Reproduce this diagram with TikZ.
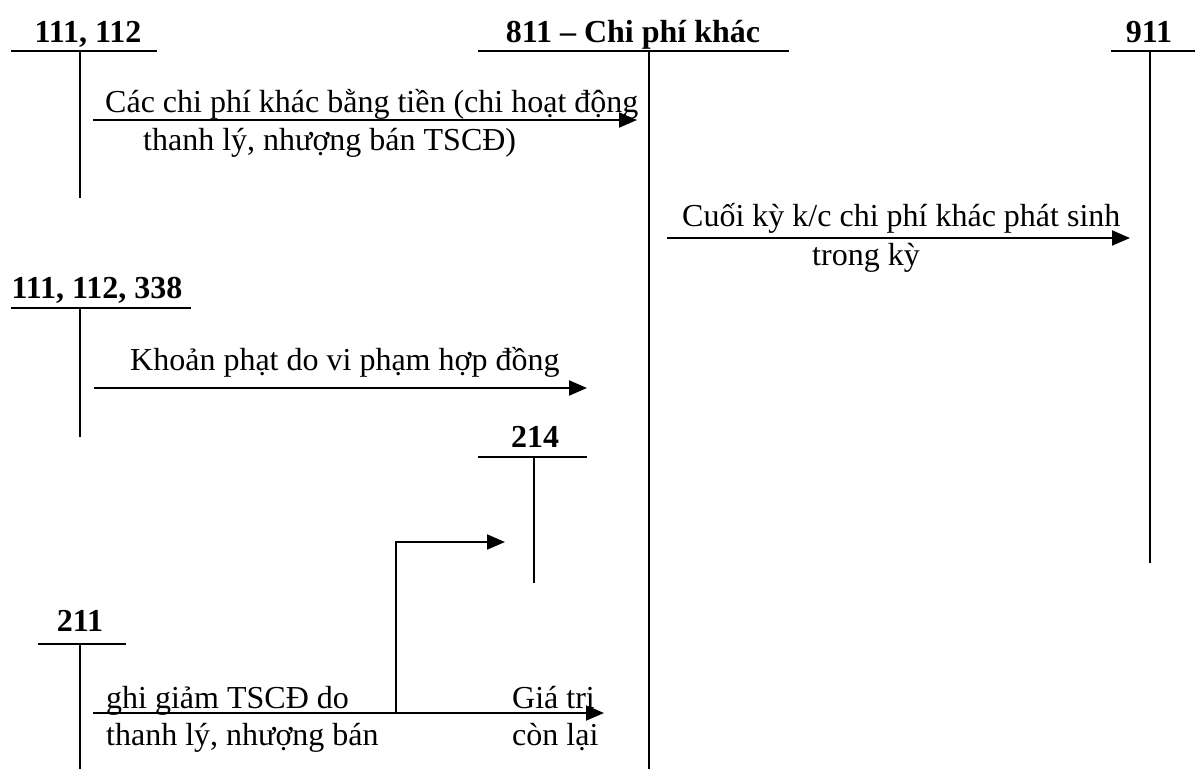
\documentclass[tikz,border=0pt]{standalone}
\usepackage{fontspec}
\setmainfont{Liberation Serif}
\usetikzlibrary{arrows.meta}
\begin{document}
\begin{tikzpicture}[x=1pt,y=-1pt,
  acct/.style={font=\fontsize{32}{38}\selectfont\bfseries, anchor=base, inner sep=0pt},
  lbl/.style={font=\fontsize{32}{38}\selectfont, anchor=base west, inner sep=0pt},
  tline/.style={line width=2pt},
  flow/.style={line width=2pt, -{Triangle[length=18pt,width=15pt]}}]
\useasboundingbox (0,0) rectangle (1195,769);
% account 111, 112
\node[acct] (a111) at (88,42) {111, 112};
\coordinate (a111L) at (11,51); \coordinate (a111R) at (157,51);
\coordinate (a111T) at (80,51); \coordinate (a111B) at (80,198);
\draw[tline] (a111L) -- (a111R); \draw[tline] (a111T) -- (a111B);
% account 811
\node[acct] (a811) at (633,42) {811 – Chi phí khác};
\coordinate (a811L) at (478,51); \coordinate (a811R) at (789,51);
\coordinate (a811T) at (649,51); \coordinate (a811B) at (649,769);
\draw[tline] (a811L) -- (a811R); \draw[tline] (a811T) -- (a811B);
% account 911
\node[acct] (a911) at (1149,42) {911};
\coordinate (a911L) at (1111,51); \coordinate (a911R) at (1195,51);
\coordinate (a911T) at (1150,51); \coordinate (a911B) at (1150,563);
\draw[tline] (a911L) -- (a911R); \draw[tline] (a911T) -- (a911B);
% account 111, 112, 338
\node[acct] (a338) at (97,298) {111, 112, 338};
\coordinate (a338L) at (11,308); \coordinate (a338R) at (191,308);
\coordinate (a338T) at (80,308); \coordinate (a338B) at (80,437);
\draw[tline] (a338L) -- (a338R); \draw[tline] (a338T) -- (a338B);
% account 214
\node[acct] (a214) at (535,447) {214};
\coordinate (a214L) at (478,457); \coordinate (a214R) at (587,457);
\coordinate (a214T) at (534,457); \coordinate (a214B) at (534,583);
\draw[tline] (a214L) -- (a214R); \draw[tline] (a214T) -- (a214B);
% account 211
\node[acct] (a211) at (80,631) {211};
\coordinate (a211L) at (38,644); \coordinate (a211R) at (126,644);
\coordinate (a211T) at (80,644); \coordinate (a211B) at (80,769);
\draw[tline] (a211L) -- (a211R); \draw[tline] (a211T) -- (a211B);

% flow 1
\coordinate (f1s) at (93,120); \coordinate (f1e) at (637,120);
\draw[flow] (f1s) -- (f1e);
\node[lbl] (t1a) at (105,112) {Các chi phí khác bằng tiền (chi hoạt động};
\node[lbl] (t1b) at (143,150) {thanh lý, nhượng bán TSCĐ)};
% flow 2
\coordinate (f2s) at (667,238); \coordinate (f2e) at (1130,238);
\draw[flow] (f2s) -- (f2e);
\node[lbl] (t2a) at (682,226) {Cuối kỳ k/c chi phí khác phát sinh};
\node[lbl] (t2b) at (812,265) {trong kỳ};
% flow 3
\coordinate (f3s) at (94,388); \coordinate (f3e) at (587,388);
\draw[flow] (f3s) -- (f3e);
\node[lbl] (t3) at (130,370) {Khoản phạt do vi phạm hợp đồng};
% flow 4
\coordinate (f4s) at (93,713); \coordinate (f4e) at (604,713);
\coordinate (f4b) at (396,713); \coordinate (f4k) at (396,542); \coordinate (f4t) at (505,542);
\draw[flow] (f4s) -- (f4e);
\draw[flow] (f4b) -- (f4k) -- (f4t);
\node[lbl] (t4a) at (106,708) {ghi giảm TSCĐ do};
\node[lbl] (t4b) at (106,745) {thanh lý, nhượng bán};
\node[lbl] (t4c) at (512,708) {Giá trị};
\node[lbl] (t4d) at (512,745) {còn lại};
\end{tikzpicture}
\end{document}
